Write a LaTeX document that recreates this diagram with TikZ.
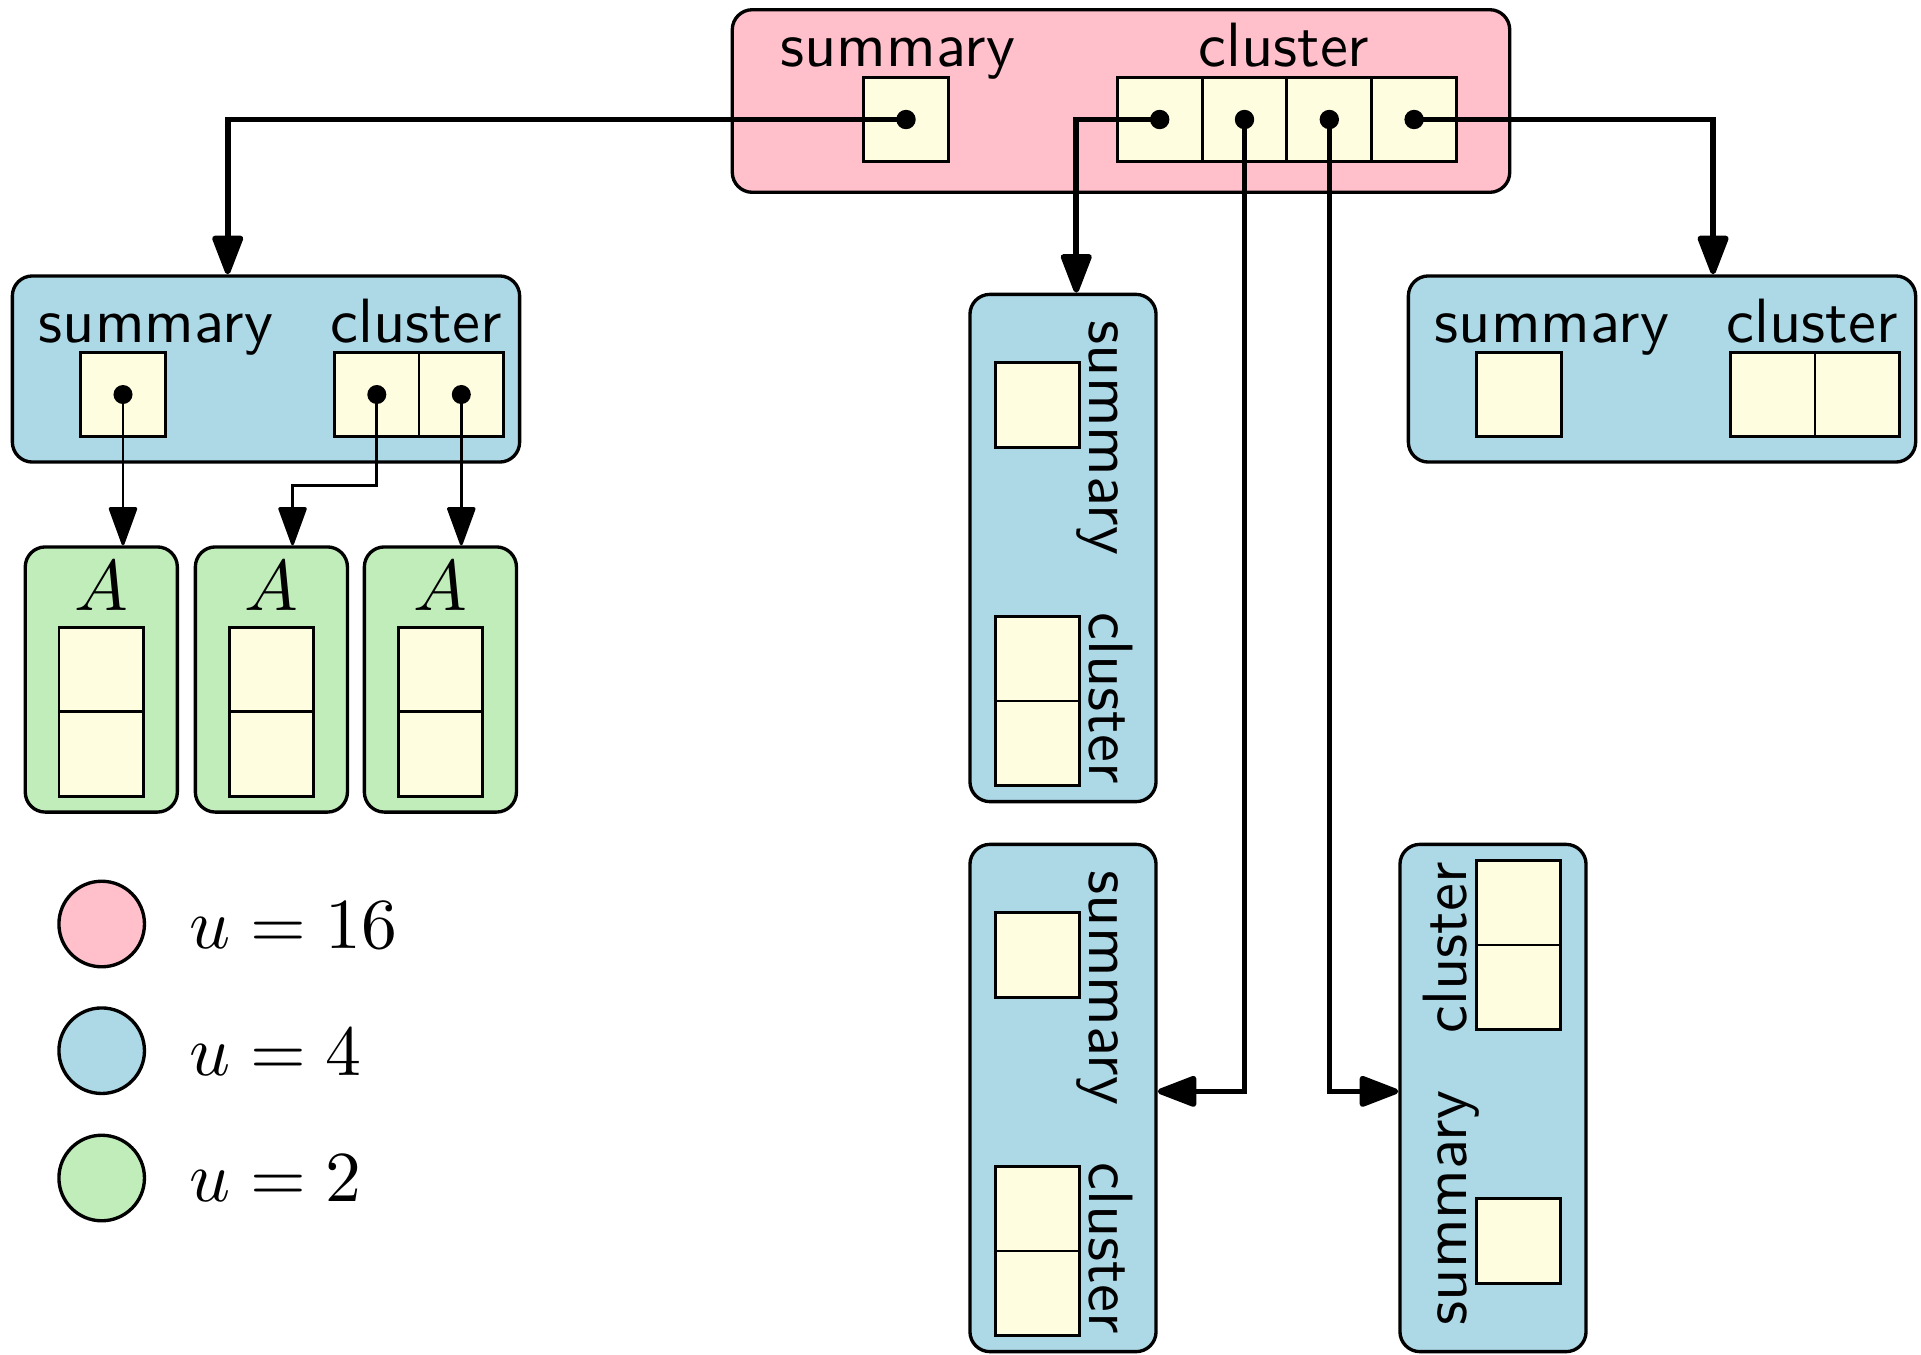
\documentclass[tikz,border=0pt]{standalone}
\usetikzlibrary{arrows.meta,calc}
\definecolor{pinkc}{RGB}{255,192,203}
\definecolor{bluec}{RGB}{173,216,230}
\definecolor{greenc}{RGB}{193,237,187}
\definecolor{cellc}{RGB}{255,253,224}
\newcommand\sfLbl[1]{\scalebox{1.78}{\sffamily #1}}
\newcommand\mLbl[1]{\scalebox{2.04}{$#1$}}
\tikzset{
  boxbase/.style={draw, line width=0.95pt, rounded corners=0.2cm, inner sep=0pt},
  pinkbox/.style={boxbase, fill=pinkc, minimum width=7.77cm, minimum height=1.825cm},
  bluebox/.style={boxbase, fill=bluec, minimum width=5.07cm, minimum height=1.86cm},
  greenbox/.style={boxbase, fill=greenc, minimum width=1.52cm, minimum height=2.65cm},
  cell/.style={draw, line width=0.8pt, fill=cellc, minimum size=0.845cm, inner sep=0pt},
  lbl/.style={inner sep=0pt, font=\fontsize{10}{12}\selectfont},
  mathlbl/.style={inner sep=0pt, font=\fontsize{10}{12}\selectfont},
  legcirc/.style={circle, draw, line width=0.95pt, minimum size=0.855cm, inner sep=0pt},
  thk/.style={line width=1.6pt, -{Triangle[length=0.44cm,width=0.32cm,round]}},
  thn/.style={line width=0.85pt, -{Triangle[length=0.41cm,width=0.29cm,round]}},
}
\newcommand\vebBlue[3]{%
  \begin{scope}[shift={#2}, rotate=#3, transform shape]
    \node[bluebox] (#1) at (0,0) {};
    \node[lbl, anchor=base] (#1-sl) at (-110,-26.3) {\sfLbl{summary}};
    \node[lbl, anchor=base] (#1-cl) at (150,-26.3) {\sfLbl{cluster}};
    \node[cell] (#1-s) at (-143,25.5) {};
    \node[cell] (#1-c1) at (110.8,25.5) {};
    \node[cell] (#1-c2) at (195.3,25.5) {};
  \end{scope}}
\newcommand\vebGreen[2]{%
  \begin{scope}[shift={#2}]
    \node[greenbox] (#1) at (0,0) {};
    \node[mathlbl, anchor=base] (#1-a) at (0,-69.5) {\mLbl{A}};
    \node[cell] (#1-c1) at (0,-9.5) {};
    \node[cell] (#1-c2) at (0,74.5) {};
  \end{scope}}
\begin{document}
\begin{tikzpicture}[x=0.01cm, y=-0.01cm]
\useasboundingbox (0,0) rectangle (1921,1354);
% top pink structure
\node[pinkbox] (p) at (1121,101) {};
\node[lbl, anchor=base] (p-sl) at (897.7,66.7) {\sfLbl{summary}};
\node[lbl, anchor=base] (p-cl) at (1283.9,66.7) {\sfLbl{cluster}};
\node[cell] (p-s) at (906,119.5) {};
\node[cell] (p-c1) at (1159.7,119.5) {};
\node[cell] (p-c2) at (1244.5,119.5) {};
\node[cell] (p-c3) at (1329.3,119.5) {};
\node[cell] (p-c4) at (1414.1,119.5) {};
% blue structures
\vebBlue{b1}{(266,369)}{0}
\vebBlue{b5}{(1662,369)}{0}
\vebBlue{b2}{(1063,548)}{-90}
\vebBlue{b3}{(1063,1098)}{-90}
\vebBlue{b4}{(1493,1098)}{90}
% green structures
\vebGreen{g1}{(101.3,679.5)}
\vebGreen{g2}{(271.4,679.5)}
\vebGreen{g3}{(440.4,679.5)}
% legend
\node[legcirc, fill=pinkc] (l1) at (101.7,924) {};
\node[legcirc, fill=bluec] (l2) at (101.7,1050.7) {};
\node[legcirc, fill=greenc] (l3) at (101.7,1178) {};
\node[mathlbl, anchor=base west] (t1) at (188.5,948.3) {\mLbl{u=16}};
\node[mathlbl, anchor=base west] (t2) at (188.5,1075) {\mLbl{u=4}};
\node[mathlbl, anchor=base west] (t3) at (188.5,1201.7) {\mLbl{u=2}};
% thick connectors
\draw[thk] (p-s.center) -| ($(b1.north west)!0.425!(b1.north east)$);
\draw[thk] (p-c1.center) -| ($(b2.south west)!0.57!(b2.north west)$);
\draw[thk] (p-c2.center) |- ($(b3.north west)!0.487!(b3.north east)$);
\draw[thk] (p-c3.center) |- ($(b4.north east)!0.487!(b4.north west)$);
\draw[thk] (p-c4.center) -| ($(b5.north west)!0.6!(b5.north east)$);
\foreach \n in {p-s,p-c1,p-c2,p-c3,p-c4}
  \fill (\n.center) circle[radius=0.097cm];
% thin connectors
\draw[thn] (b1-s.center) -- (b1-s.center |- g1.north);
\draw[thn] (b1-c1.center) -- ++(0,90.5) -| ($(g2.north west)!0.636!(g2.north east)$);
\draw[thn] (b1-c2.center) -- (b1-c2.center |- g3.north);
\foreach \n in {b1-s,b1-c1,b1-c2}
  \fill (\n.center) circle[radius=0.095cm];
\end{tikzpicture}
\end{document}
